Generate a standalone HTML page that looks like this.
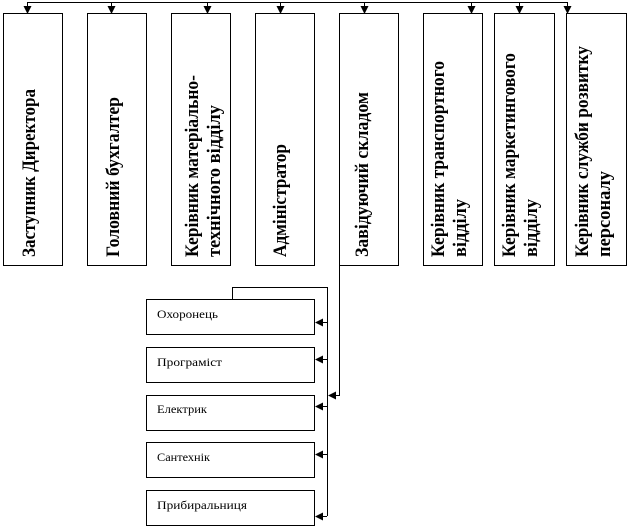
<!DOCTYPE html>
<html><head><meta charset="utf-8"><style>
html,body{margin:0;padding:0;background:#fff}
svg{display:block}
.v{font-family:"Liberation Serif",serif;font-weight:bold;font-size:19px}
.s{font-family:"Liberation Serif",serif;font-size:12px}
</style></head><body>
<svg width="630" height="529" viewBox="0 0 630 529" xmlns="http://www.w3.org/2000/svg">
<defs>
<marker id="a" markerWidth="8" markerHeight="8" refX="7" refY="4" orient="auto" markerUnits="userSpaceOnUse">
<path d="M0,0 L8,4 L0,8 Z" fill="#000"/></marker>
</defs>
<g stroke="#000" stroke-width="1" fill="none">
<path d="M27,2.5 H568"/>
<g marker-end="url(#a)">
<line x1="27.5" y1="2" x2="27.5" y2="13"/>
<line x1="111.5" y1="2" x2="111.5" y2="13"/>
<line x1="207.5" y1="2" x2="207.5" y2="13"/>
<line x1="280.5" y1="2" x2="280.5" y2="13"/>
<line x1="364.5" y1="2" x2="364.5" y2="13"/>
<line x1="471.5" y1="2" x2="471.5" y2="13"/>
<line x1="519.5" y1="2" x2="519.5" y2="13"/>
<line x1="567.5" y1="2" x2="567.5" y2="13"/>
</g>
<rect x="3.5" y="13.5" width="59" height="252"/>
<rect x="87.5" y="13.5" width="59" height="252"/>
<rect x="171.5" y="13.5" width="59" height="252"/>
<rect x="255.5" y="13.5" width="59" height="252"/>
<rect x="339.5" y="13.5" width="59" height="252"/>
<rect x="423.5" y="13.5" width="59" height="252"/>
<rect x="494.5" y="13.5" width="60" height="252"/>
<rect x="566.5" y="13.5" width="60" height="252"/>
<path d="M339.5,265 V395.5 H329" marker-end="url(#a)"/>
<path d="M232.5,299 V287.5 H327.5 V516"/>
<g marker-end="url(#a)">
<line x1="327" y1="322.5" x2="316" y2="322.5"/>
<line x1="327" y1="359.5" x2="316" y2="359.5"/>
<line x1="327" y1="406.5" x2="316" y2="406.5"/>
<line x1="327" y1="454.5" x2="316" y2="454.5"/>
<line x1="327" y1="516.5" x2="316" y2="516.5"/>
</g>
<rect x="146.5" y="299.5" width="168" height="35"/>
<rect x="146.5" y="347.5" width="168" height="35"/>
<rect x="146.5" y="395.5" width="168" height="35"/>
<rect x="146.5" y="442.5" width="168" height="35"/>
<rect x="146.5" y="490.5" width="168" height="35"/>
</g>
<g class="v">
<text transform="translate(35,257) rotate(-90)" textLength="168" lengthAdjust="spacingAndGlyphs">Заступник Директора</text>
<text transform="translate(119,257) rotate(-90)" textLength="160" lengthAdjust="spacingAndGlyphs">Головний бухгалтер</text>
<text transform="translate(198,257) rotate(-90)" textLength="182" lengthAdjust="spacingAndGlyphs">Керівник матеріально-</text>
<text transform="translate(220,257) rotate(-90)" textLength="152" lengthAdjust="spacingAndGlyphs">технічного відділу</text>
<text transform="translate(286,257) rotate(-90)" textLength="113" lengthAdjust="spacingAndGlyphs">Адміністратор</text>
<text transform="translate(368,257) rotate(-90)" textLength="165" lengthAdjust="spacingAndGlyphs">Завідуючий складом</text>
<text transform="translate(444,257) rotate(-90)" textLength="196" lengthAdjust="spacingAndGlyphs">Керівник транспортного</text>
<text transform="translate(466,257) rotate(-90)" textLength="58" lengthAdjust="spacingAndGlyphs">відділу</text>
<text transform="translate(515,257) rotate(-90)" textLength="204" lengthAdjust="spacingAndGlyphs">Керівник маркетингового</text>
<text transform="translate(537,257) rotate(-90)" textLength="58" lengthAdjust="spacingAndGlyphs">відділу</text>
<text transform="translate(588,257) rotate(-90)" textLength="211" lengthAdjust="spacingAndGlyphs">Керівник служби розвитку</text>
<text transform="translate(610,257) rotate(-90)" textLength="86" lengthAdjust="spacingAndGlyphs">персоналу</text>
</g>
<g class="s">
<text x="157" y="318" textLength="61" lengthAdjust="spacingAndGlyphs">Охоронець</text>
<text x="157" y="366" textLength="65" lengthAdjust="spacingAndGlyphs">Програміст</text>
<text x="157" y="413" textLength="50" lengthAdjust="spacingAndGlyphs">Електрик</text>
<text x="157" y="461" textLength="53" lengthAdjust="spacingAndGlyphs">Сантехнік</text>
<text x="157" y="509" textLength="90" lengthAdjust="spacingAndGlyphs">Прибиральниця</text>
</g>
</svg>
</body></html>
